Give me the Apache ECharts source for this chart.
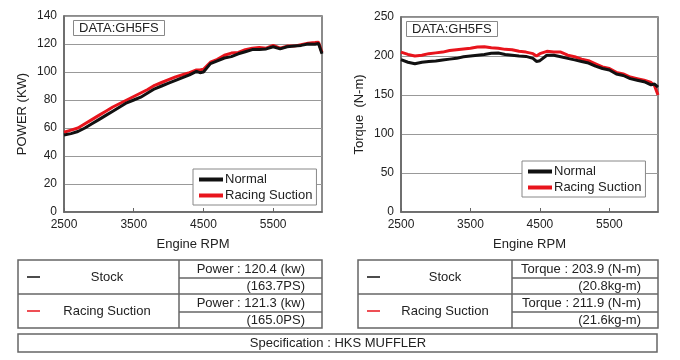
<!DOCTYPE html>
<html><head><meta charset="utf-8">
<script src="https://cdn.jsdelivr.net/npm/echarts@6/dist/echarts.min.js"></script>
<style>html,body{margin:0;padding:0;background:#fff}#c{width:680px;height:360px}</style>
</head><body><div id="c"></div>
<script>
const rpm = [2500,2600,2700,2800,2900,3000,3100,3200,3300,3400,3500,3600,3700,3800,3900,4000,4100,4200,4300,4400,4450,4500,4600,4700,4800,4900,5000,5100,5200,5300,5400,5500,5600,5700,5800,5900,6000,6100,6150,6200];
const powerNormal = [55,56,57.5,60,63,66,69,72,75,78,80,82,85,88,90,92,94,96,98,100.5,99.5,100,106,108,110,111,113,114.5,116,116,116.5,118,116.5,118,118.5,119,120,119.8,120.4,113];
const powerRacing = [57,58.5,60,63,66,69,72,75,77.5,80,82.5,85,87.5,90.5,92.5,94.5,96.5,98,99.5,101.5,101.5,102,107,109,112,113.5,114,116,117,117.5,117,119,117,118.5,118.5,119.5,120.5,121,121.3,114];
const torqueNormal = [195.4,192,190,192,193,193.5,195,196,197,199,200,201,202,203.5,203.9,202,201,200,199.5,197,193,194,201,201,199,197,195,193,191,187,184,182,177,175,171,169,167,163,164,160];
const torqueRacing = [205,202,200,201,203,204,205,207,208,209,210,211.5,211.9,210.5,210,208.5,208,206,205,203,200,203,206,205,205,201,199,196,194,190,186,184,179,177,173,171,169,166,162,150];
const xTicks = [2500,3500,4500,5500];
const seriesNames = ['Normal','Racing Suction'];
const tableNames = ['Stock','Racing Suction'];
const powerLines = [['Power : 120.4 (kw)','(163.7PS)'],['Power : 121.3 (kw)','(165.0PS)']];
const torqueLines = [['Torque : 203.9 (N-m)','(20.8kg-m)'],['Torque : 211.9 (N-m)','(21.6kg-m)']];
const specText = 'Specification : HKS MUFFLER';
const dataLabel = 'DATA:GH5FS';

const FONT = 'Liberation Sans, Arial, sans-serif';
const BLACK = '#111', RED = '#e8141c';
const chart = echarts.init(document.getElementById('c'), null, {renderer:'canvas'});

function xAxisCfg(idx){
  return {type:'value', gridIndex:idx, min:2500, max:6200, name:'Engine RPM', nameLocation:'middle', nameGap:26,
    nameTextStyle:{fontSize:13, color:'#222', fontFamily:FONT},
    axisLine:{show:true, lineStyle:{color:'#666', width:1.5}},
    axisTick:{show:true, inside:true, length:4, customValues:xTicks, lineStyle:{color:'#666'}},
    axisLabel:{customValues:xTicks, fontSize:12, color:'#222', fontFamily:FONT, margin:7, formatter:v=>String(v)},
    splitLine:{show:false}};
}
function yAxisCfg(idx, max, interval, name){
  return {type:'value', gridIndex:idx, min:0, max:max, interval:interval, name:name, nameLocation:'middle', nameGap:35, nameRotate:90,
    nameTextStyle:{fontSize:13, color:'#222', fontFamily:FONT},
    axisLine:{show:true, lineStyle:{color:'#666', width:1.5}},
    axisTick:{show:false},
    axisLabel:{fontSize:12, color:'#222', fontFamily:FONT, margin:7},
    splitLine:{show:true, lineStyle:{color:'#999', width:1}}};
}
function line(name, xi, data, color){
  return {type:'line', name:name, xAxisIndex:xi, yAxisIndex:xi, data:rpm.map((r,i)=>[r,data[i]]),
    showSymbol:false, symbol:'none', smooth:false, lineStyle:{color:color, width:3}, itemStyle:{color:color}, animation:false};
}
function legendCfg(left, top, w, h){
  return {show:true, orient:'vertical', left:left, top:top, width:w, data:seriesNames.map(n=>({name:n, icon:'rect'})),
    itemWidth:24, itemHeight:4, itemGap:3, padding:[4,4,3,6], borderColor:'#888', borderWidth:1, backgroundColor:'#fff',
    textStyle:{fontSize:13, color:'#222', fontFamily:FONT, padding:[0,0,0,-3]}, selectedMode:false};
}
function titleCfg(left, top){
  return {text:dataLabel, left:left, top:top, borderColor:'#888', borderWidth:1, padding:[2,6,1,6], backgroundColor:'#fff',
    textStyle:{fontSize:13, fontWeight:'normal', color:'#222', fontFamily:FONT}};
}

const g = [];
function txt(x,y,s,align){ g.push({type:'text', x:x, y:y, style:{text:s, fill:'#222', font:'13px '+FONT, textAlign:align||'center', textVerticalAlign:'middle'}}); }
function ln(x1,y1,x2,y2,c,w){ g.push({type:'line', shape:{x1:x1,y1:y1,x2:x2,y2:y2}, style:{stroke:c||'#666', lineWidth:w||1.5}}); }
function table(x0,x1,xs,nameCx,lines){
  const y0=260, ym=294, y1=328;
  g.push({type:'rect', shape:{x:x0,y:y0,width:x1-x0,height:y1-y0}, style:{fill:'none', stroke:'#666', lineWidth:1.5}});
  ln(x0,ym,x1,ym); ln(xs,y0,xs,y1); ln(xs,278,x1,278); ln(xs,312,x1,312);
  const colors=[BLACK,RED];
  tableNames.forEach((n,i)=>{
    const cy = i===0?277:311;
    ln(x0+9,cy,x0+22,cy,colors[i],1.5);
    txt(nameCx, cy, n);
    txt(x1-17, (i===0?269:303), lines[i][0], 'right');
    txt(x1-17, (i===0?286:320), lines[i][1], 'right');
  });
}
table(18,322,179,107,powerLines);
table(358,658,512,445,torqueLines);
g.push({type:'rect', shape:{x:18,y:334,width:639,height:18}, style:{fill:'none', stroke:'#666', lineWidth:1.5}});
txt(338,343,specText);

chart.setOption({
  animation:false,
  title:[titleCfg(73,20), titleCfg(406,21)],
  legend:[legendCfg(193,169), legendCfg(522,161)],
  grid:[{left:64, top:16, right:358, bottom:148, show:true, borderColor:'#666', borderWidth:1.5},
        {left:401, top:17, right:22, bottom:148, show:true, borderColor:'#666', borderWidth:1.5}],
  xAxis:[xAxisCfg(0), xAxisCfg(1)],
  yAxis:[yAxisCfg(0,140,20,'POWER (KW)'), yAxisCfg(1,250,50,'Torque  (N-m)')],
  series:[line(seriesNames[1],0,powerRacing,RED), line(seriesNames[0],0,powerNormal,BLACK),
          line(seriesNames[1],1,torqueRacing,RED), line(seriesNames[0],1,torqueNormal,BLACK)],
  graphic:g
});
</script></body></html>
